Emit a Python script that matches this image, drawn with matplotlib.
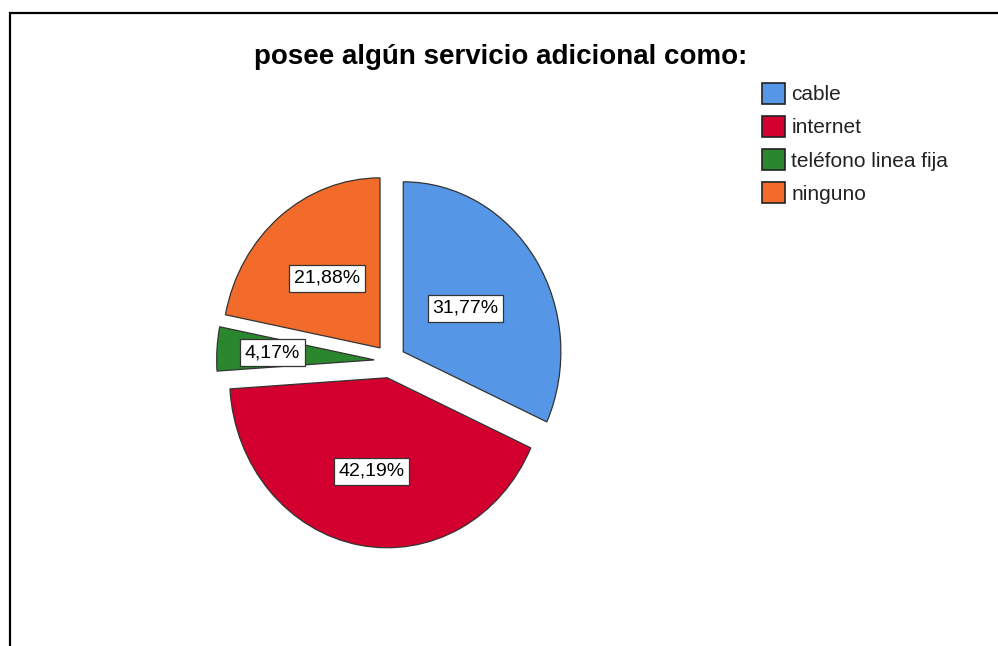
import matplotlib
matplotlib.use("Agg")
import matplotlib.pyplot as plt
import numpy as np
from matplotlib.patches import Rectangle, Patch

plt.rcParams['font.family'] = ['Liberation Sans', 'DejaVu Sans']

# datos
categorias = ['cable', 'internet', 'teléfono linea fija', 'ninguno']
porcentajes = [31.77, 42.19, 4.17, 21.88]
colores = ['#5596E6', '#D3002F', '#2A872E', '#F26B2B']
titulo = 'posee algún servicio adicional como:'

fig = plt.figure(figsize=(9.98, 6.46), dpi=100)

# marco exterior (sale por la derecha y por abajo)
fig.add_artist(Rectangle((9.5 / 998, -0.1), 1.2, 1.1 - 12.5 / 646,
                         transform=fig.transFigure, fill=False,
                         edgecolor='black', linewidth=1.6))

fig.text(0.502, 1 - 57 / 646, titulo, ha='center', va='center',
         fontsize=20, fontweight='bold')

ax = fig.add_axes([0.1934, 0.1122, 0.3948, 0.6579])
wedges, textos, autotextos = ax.pie(
    porcentajes, colors=colores, startangle=90, counterclock=False,
    explode=[0.1] * len(porcentajes),
    autopct=lambda p: f'{p:.2f}%'.replace('.', ','), pctdistance=0.55,
    wedgeprops=dict(edgecolor='#333333', linewidth=0.9),
    textprops=dict(fontsize=14, color='black'))
ax.set_aspect('auto')
ax.set_xlim(-1.25, 1.25)
ax.set_ylim(-1.25, 1.25)

# distancia de cada etiqueta al centro de su sector (mismo orden que categorias)
dist_etiq = [0.47, 0.56, 0.65, 0.53]
for w, t, d in zip(wedges, autotextos, dist_etiq):
    ang = np.deg2rad((w.theta1 + w.theta2) / 2)
    cx, cy = w.center
    t.set_position((cx + d * np.cos(ang), cy + d * np.sin(ang)))
    t.set_bbox(dict(boxstyle='square,pad=0.25', facecolor='white',
                    edgecolor='#333333', linewidth=0.9))

handles = [Patch(facecolor=c, edgecolor='#222222', linewidth=1.2) for c in colores]
fig.legend(handles, categorias, loc='upper left',
           bbox_to_anchor=(762 / 998, 1 - 83 / 646), frameon=False,
           fontsize=15, labelcolor='#222222', handlelength=1.1,
           handleheight=1.15, handletextpad=0.3, labelspacing=0.56,
           borderpad=0, borderaxespad=0)

fig.savefig('out.png', dpi=100)
